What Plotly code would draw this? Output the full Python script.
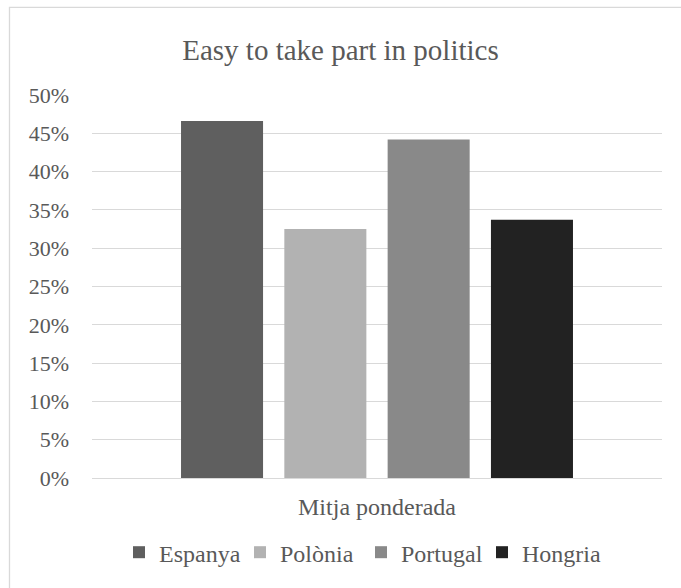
import plotly.graph_objects as go

categories = ["Mitja ponderada"]
series_names = ["Espanya", "Polònia", "Portugal", "Hongria"]
series_values = [[0.466], [0.325], [0.442], [0.337]]
series_colors = ["#5f5f5f", "#b2b2b2", "#898989", "#222222"]
tick_vals = [i * 0.05 for i in range(11)]
tick_text = [f"{i*5}%" for i in range(11)]

FONT = "Liberation Serif"
TXT = "#595959"

fig = go.Figure()
for name, vals, col in zip(series_names, series_values, series_colors):
    fig.add_trace(go.Bar(x=categories, y=vals, name=name, marker=dict(color=col, line=dict(width=0))))

fig.update_layout(
    width=681, height=588,
    paper_bgcolor="white", plot_bgcolor="white",
    margin=dict(l=92, r=19, t=95, b=110),
    barmode="group", bargap=0.275, bargroupgap=0.206,
    font=dict(family=FONT, color=TXT, size=22),
    title=dict(text="Easy to take part in politics", x=0.5, xanchor="center",
               y=1 - 50 / 588, yanchor="middle", font=dict(size=29, color=TXT, family=FONT)),
    showlegend=True,
    legend=dict(orientation="h", x=0.5 - 16 / 570, xanchor="center", y=-(552 - 477.5) / (477.5 - 95),
                yanchor="middle", font=dict(size=24, color=TXT, family=FONT), itemwidth=30,
                traceorder="normal", entrywidth=76, entrywidthmode="pixels"),
    shapes=[dict(type="rect", xref="paper", yref="paper",
                 x0=-(92 - 9.5) / 570, x1=(700 - 92) / 570,
                 y0=-(610 - 477.5) / 382.5, y1=(477.5 - 7.5) / 382.5,
                 line=dict(color="#d9d9d9", width=1.3), fillcolor="rgba(0,0,0,0)", layer="below")],
)
fig.update_yaxes(range=[0, 0.5], tickvals=tick_vals, ticktext=tick_text, showgrid=True,
                 gridcolor="#d9d9d9", gridwidth=1.3, zeroline=False, showline=False,
                 ticks="", ticklabelstandoff=22, tickfont=dict(size=22, color=TXT, family=FONT))
fig.update_xaxes(showline=True, linecolor="#d9d9d9", linewidth=1.3, ticks="",
                 tickfont=dict(size=24, color=TXT, family=FONT), ticklabelstandoff=7)

fig.write_html("out.html", config={"displayModeBar": False},
               post_script="document.body.style.margin='0';document.body.style.overflow='hidden';")
